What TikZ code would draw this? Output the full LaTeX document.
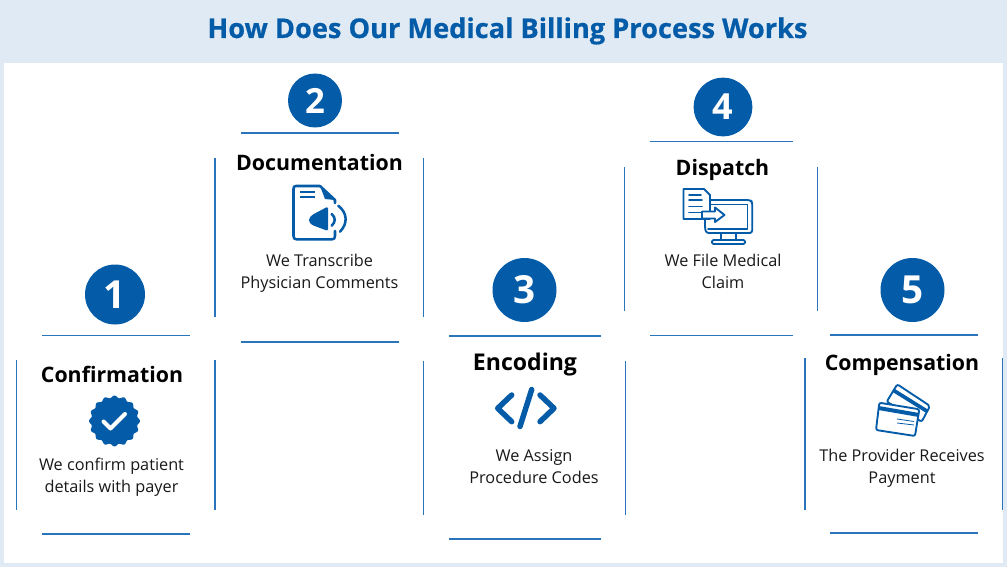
\documentclass[tikz,border=0pt]{standalone}
\usepackage{fontspec}
\setmainfont{Open Sans}
\newfontfamily\bodyfont{Open Sans}
\newfontfamily\headfont[UprightFeatures={FakeBold=0.6},BoldFeatures={FakeBold=0.6}]{Open Sans}
\definecolor{brand}{HTML}{045CA8}
\definecolor{edge}{HTML}{2A74BC}
\definecolor{band}{HTML}{E0EAF4}
\tikzset{
  x=0.75pt, y=-0.75pt,
  rim/.style={draw=edge, line width=0.85pt},
  badge/.style={circle, fill=brand, text=white, inner sep=0pt, font=\fontsize{29}{29}\selectfont\bfseries},
  cardtitle/.style={anchor=base, inner sep=0pt, text=black, font=\fontsize{16}{16}\selectfont\bfseries},
  cardtext/.style={anchor=base, inner sep=0pt, text=black!90, font=\bodyfont\fontsize{12.2}{16.2}\selectfont},
  ink/.style={draw=brand, line width=1.9pt, line join=round, line cap=round},
  thin ink/.style={draw=brand, line width=1.4pt, line join=round, line cap=round},
}
\newcommand{\cardrim}[8]{%
  % left, right, top, bottom, horizontal run (x0,x1), vertical run (y0,y1)
  \draw[rim] (#5,#3) -- (#6,#3);
  \draw[rim] (#5,#4) -- (#6,#4);
  \draw[rim] (#1,#7) -- (#1,#8);
  \draw[rim] (#2,#7) -- (#2,#8);
}
\begin{document}
\begin{tikzpicture}
\useasboundingbox (0,0) rectangle (1007,567);
\fill[band] (0,0) rectangle (1007,567);
\fill[white] (4,63) rectangle (1003,563);
\node[inner sep=0pt, anchor=base, text=brand, font=\headfont\fontsize{20.4}{20.4}\selectfont\bfseries] (heading) at (507.5,38) {How Does Our Medical Billing Process Works};

% card outlines
\cardrim{16.5}{215}{335.7}{534}{42}{190}{360}{510}
\cardrim{215}{423.5}{133}{342}{241}{398.5}{158}{317}
\cardrim{423.5}{625.7}{336}{539}{449}{601}{361}{515}
\cardrim{624.3}{817.3}{141.7}{335.7}{650}{793}{167}{311}
\cardrim{805}{1002.7}{335}{533}{830}{978}{358}{510}

% numbered discs
\node[badge, minimum size=45pt] (n1) at (115,294.5) {1};
\node[badge, minimum size=40.5pt, font=\fontsize{26}{26}\selectfont\bfseries] (n2) at (315,100.5) {2};
\node[badge, minimum size=48pt] (n3) at (524.5,290) {3};
\node[badge, minimum size=44pt, font=\fontsize{27}{27}\selectfont\bfseries] (n4) at (723,107) {4};
\node[badge, minimum size=48pt] (n5) at (912.5,290) {5};

% titles
\node[cardtitle] (t1) at (112,382) {Confirmation};
\node[cardtitle] (t2) at (319.5,171) {Documentation};
\node[cardtitle, font=\fontsize{17.3}{17.3}\selectfont\bfseries] (t3) at (525,370.5) {Encoding};
\node[cardtitle] (t4) at (722.5,175) {Dispatch};
\node[cardtitle] (t5) at (902,370.5) {Compensation};

% descriptions
\node[cardtext, align=center] (d1) at (111.5,492) {We confirm patient\\details with payer};
\node[cardtext, align=center] (d2) at (319.5,288.5) {We Transcribe\\Physician Comments};
\node[cardtext, align=center] (d3) at (534,483.5) {We Assign\\Procedure Codes};
\node[cardtext, align=center] (d4) at (723,288.5) {We File Medical\\Claim};
\node[cardtext, align=center] (d5) at (902,483.5) {The Provider Receives\\Payment};

% seal with check mark
\fill[brand] plot[domain=0:360, samples=241, smooth] ({114.5+(24.3+1.1*cos(16*\x))*cos(\x)},{421+(24.3+1.1*cos(16*\x))*sin(\x)}) -- cycle;
\draw[white, line width=3pt, line cap=round, line join=round] (103.5,421.5) -- (110.5,428.5) -- (125,414);

% document with loudspeaker
\draw[ink] (320,186) -- (296,186) .. controls (294,186) and (293.5,187) .. (293.5,189) -- (293.5,236) .. controls (293.5,238.5) and (294.5,239.3) .. (296.5,239.3) -- (332,239.3) .. controls (334,239.3) and (335,238.5) .. (335,236) -- (335,231);
\draw[ink] (335,203) -- (335,200) -- (320,186);
\fill[brand] (320,186) -- (335,200) -- (325,199) -- cycle;
\fill[brand] (300,191) rectangle (315,193);
\fill[brand] (300,196) rectangle (315,198);
\fill[brand, rounded corners=1.2pt] (309,218.5) -- (312,215) -- (328,206.5) -- (328,231) -- (312,225) -- (309,222) -- cycle;
\draw[line width=1.9pt, draw=brand, line cap=round] (331.7,214) .. controls (335.7,217.5) and (335.7,222) .. (331.7,225.7);
\draw[line width=1.9pt, draw=brand, line cap=round] (338.3,205.7) .. controls (347.5,213) and (348,223.5) .. (340,231.7);

% code brackets
\draw[draw=brand, line width=4.1pt, line cap=round, line join=round] (511.7,395) -- (497.7,408.3) -- (511.7,421.7);
\draw[draw=brand, line width=4.1pt, line cap=round, line join=round] (540,395) -- (554,408.3) -- (540,421.7);
\draw[draw=brand, line width=4.1pt, line cap=round] (531.7,389.5) -- (520,426.5);

% computer receiving a file
\draw[thin ink, rounded corners=2pt] (705,200) -- (750,200) -- (752.3,202) -- (752.3,233) -- (706,233) -- (705,228) -- cycle;
\draw[thin ink] (710,204.5) -- (747.5,204.5) -- (747.5,229) -- (708,229);
\draw[thin ink] (721,233.5) -- (721,240) (736,233.5) -- (736,240);
\draw[thin ink, rounded corners=1pt] (712,240) rectangle (745,244);
\draw[thin ink, fill=white] (683.5,189) -- (704,189) -- (710,195) -- (710,219) -- (683.5,219) -- cycle;
\draw[thin ink] (689,195) -- (701,195) (689,200) -- (702,200) (689,206.5) -- (702,206.5) (689,212.5) -- (702,212.5);
\draw[thin ink, fill=white] (702,211.5) -- (715,211.5) -- (715,207.5) -- (724.5,215) -- (715,222) -- (715,218.5) -- (702,218.5) -- cycle;

% bank cards
\draw[thin ink, rounded corners=1.5pt, fill=white] (897.3,384.3) -- (930,406) -- (921.7,421.7) -- (886.7,401.7) -- cycle;
\draw[draw=brand, line width=2.8pt] (893,390) -- (927.5,411.5);
\draw[thin ink, rounded corners=1.5pt, fill=white] (879.3,402.7) -- (919.3,409.3) -- (915,436) -- (876,430) -- cycle;
\draw[draw=brand, line width=3pt] (878.5,408) -- (919,415);
\draw[draw=brand, line width=0.6pt] (897,419) -- (914,421.5) (897,423) -- (914,425);
\end{tikzpicture}
\end{document}
